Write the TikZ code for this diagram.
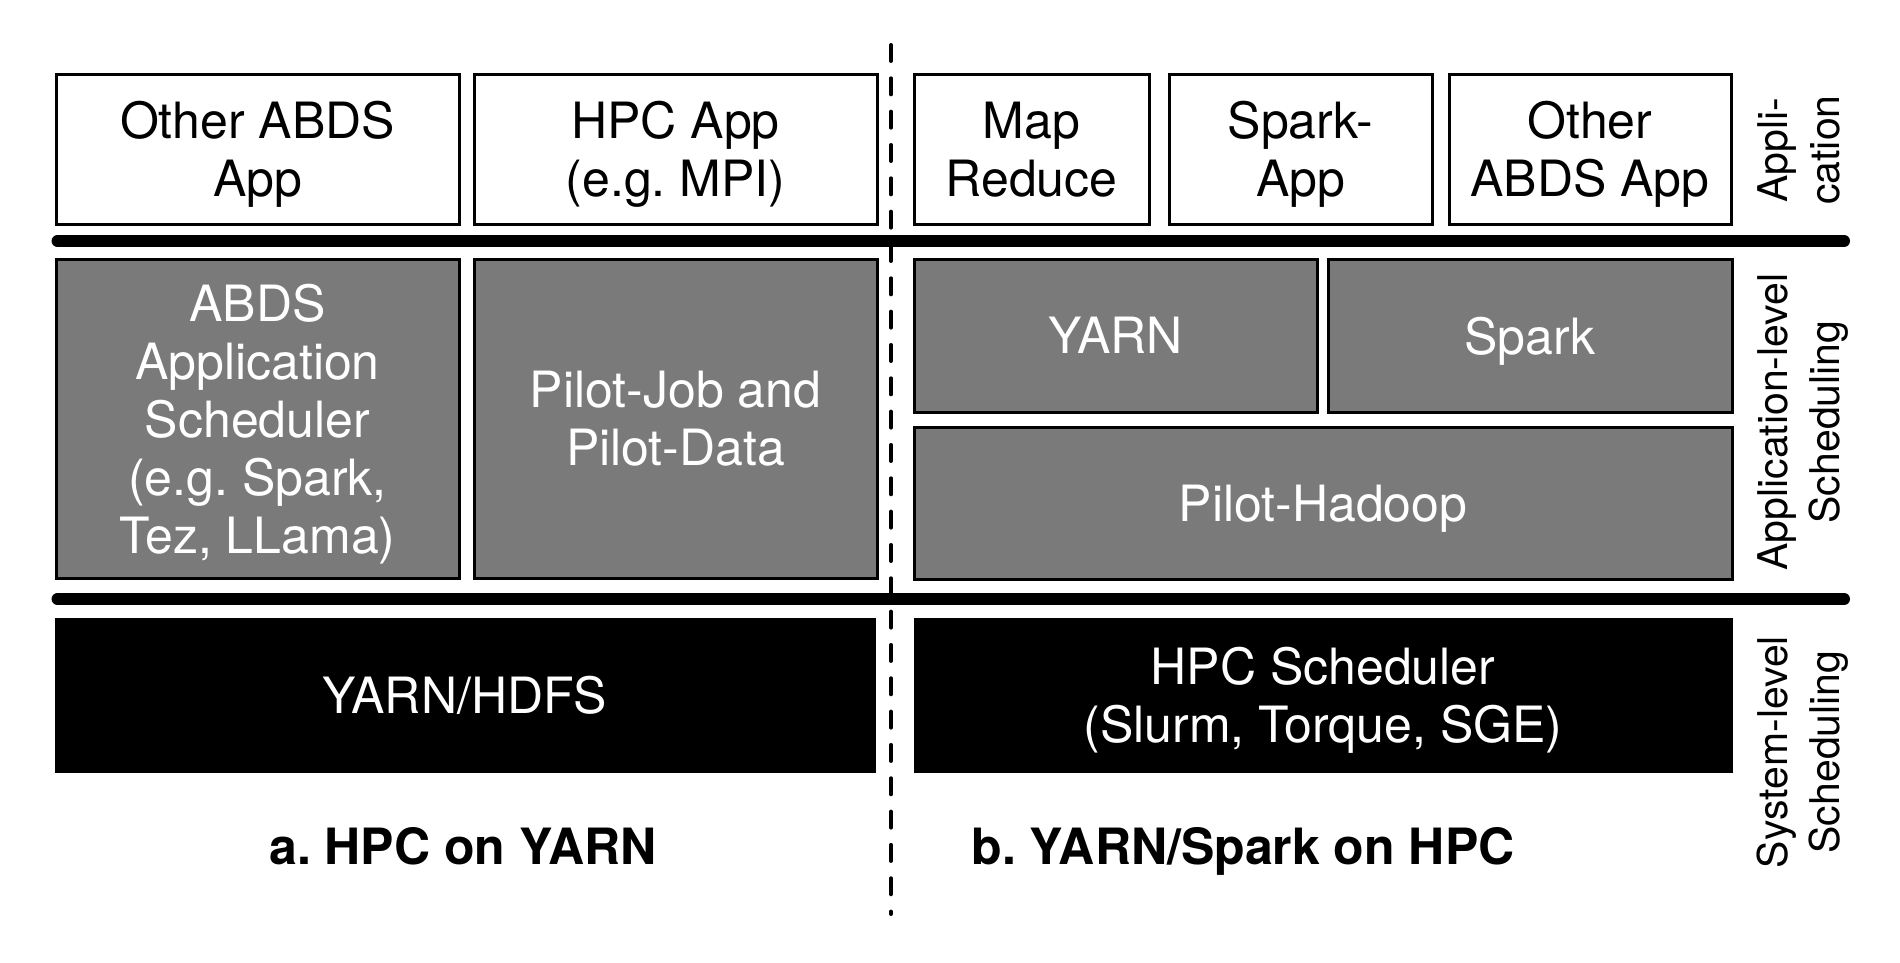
\documentclass[tikz,border=0pt]{standalone}
\usepackage{fontspec}
\setmainfont{TeX Gyre Heros}
\frenchspacing
\definecolor{grayfill}{RGB}{122,122,122}
\tikzset{
  boxbase/.style={draw=black, line width=3pt, align=center, inner sep=0pt, outer sep=0pt,
    text depth=0pt, font=\fontsize{50}{58}\selectfont},
  appbox/.style={boxbase, fill=white, text=black},
  schedbox/.style={boxbase, fill=grayfill, text=white},
  sysbox/.style={boxbase, fill=black, text=white, line width=1pt},
  layerrule/.style={line width=12pt, line cap=round},
  sepline/.style={line width=4pt, line cap=round, dash pattern=on 16pt off 17.33pt},
  sidelabel/.style={rotate=90, align=center, inner sep=0pt, anchor=north,
    font=\fontsize{41}{52}\selectfont},
  caption/.style={inner sep=0pt, anchor=base, font=\bfseries\fontsize{50}{58}\selectfont}
}
\begin{document}
\begin{tikzpicture}[x=1pt, y=-1pt]
\useasboundingbox[fill=white] (0,0) rectangle (1900,962);
% separator
\coordinate (septop) at (891,45);
\coordinate (sepbot) at (891,914);
\draw[sepline] (septop) -- (sepbot);
% layer rules
\coordinate (r1a) at (57.5,241);
\coordinate (r1b) at (1844,241);
\coordinate (r2a) at (57.5,599);
\coordinate (r2b) at (1844,599);
\draw[layerrule] (r1a) -- (r1b);
\draw[layerrule] (r2a) -- (r2b);
% application row
\node[appbox, minimum width=403pt, minimum height=150pt] (b1) at (257.5,149) {Other ABDS\\App};
\node[appbox, minimum width=403pt, minimum height=150pt] (b2) at (675.5,149) {HPC App\\(e.g. MPI)};
\node[appbox, minimum width=235pt, minimum height=150pt] (b3) at (1031.5,149) {Map\\Reduce};
\node[appbox, minimum width=263pt, minimum height=150pt] (b4) at (1300.5,149) {Spark-\\App};
\node[appbox, minimum width=282pt, minimum height=150pt] (b5) at (1590,149) {Other\\ABDS App};
% application-level scheduling
\node[schedbox, minimum width=403pt, minimum height=319pt] (m1) at (257.5,418.5) {ABDS\\Application\\Scheduler\\(e.g. Spark,\\Tez, LLama)};
\node[schedbox, minimum width=403pt, minimum height=319pt] (m2) at (675.5,418.5) {Pilot-Job and\\Pilot-Data};
\node[schedbox, minimum width=403pt, minimum height=153pt] (yarn) at (1115.5,335.5) {YARN};
\node[schedbox, minimum width=404pt, minimum height=153pt] (spark) at (1530,335.5) {Spark};
\node[schedbox, minimum width=818pt, minimum height=152pt] (ph) at (1323,503) {Pilot-Hadoop};
% system-level scheduling
\node[sysbox, minimum width=820pt, minimum height=154pt] (s1) at (465,695) {YARN/HDFS};
\node[sysbox, minimum width=818pt, minimum height=154pt] (s2) at (1323,695) {HPC Scheduler\\(Slurm, Torque, SGE)};
% captions
\node[caption] (ca) at (463,864) {a. HPC on YARN};
\node[caption] (cb) at (1243,864) {b. YARN/Spark on HPC};
% side labels
\node[sidelabel] (l1) at (1757,150) {Appli-\\cation};
\node[sidelabel] (l2) at (1757,422) {Application-level\\Scheduling};
\node[sidelabel] (l3) at (1757,752) {System-level\\Scheduling};
\end{tikzpicture}
\end{document}
